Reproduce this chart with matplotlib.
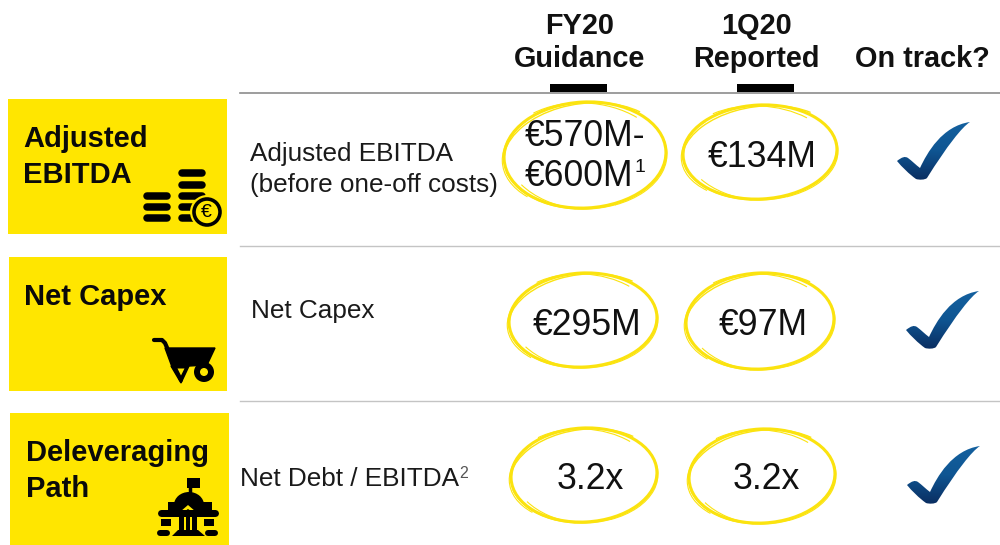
import numpy as np
import matplotlib.pyplot as plt
from matplotlib.patches import Rectangle, Circle, Ellipse, Arc, PathPatch, Polygon
from matplotlib.path import Path

plt.rcParams['font.family'] = ['Liberation Sans', 'DejaVu Sans']

columns = ['FY20\nGuidance', '1Q20\nReported', 'On track?']
tiles = ['Adjusted\nEBITDA', 'Net Capex', 'Deleveraging\nPath']
metrics = ['Adjusted EBITDA\n(before one-off costs)', 'Net Capex', 'Net Debt / EBITDA']
guidance = ['€600M', '€295M', '3.2x']
reported = ['€134M', '€97M', '3.2x']
guidance_low = '€570M-'

YELLOW = '#ffe600'
RING = '#fbe30f'

fig = plt.figure(figsize=(10, 5.45), dpi=100)
ax = fig.add_axes([0, 0, 1, 1])
ax.set_xlim(0, 1000)
ax.set_ylim(545, 0)
ax.axis('off')


def bar(x0, x1, y, h=7.5):
    # round capped stroke, h in pixels
    ax.plot([x0 + h / 2, x1 - h / 2], [y, y], color='black', lw=h * 0.72,
            solid_capstyle='round')


def ring(cx, cy, rx, ry):
    # main stroke plus loose partial strokes so it looks hand drawn
    ax.add_patch(Ellipse((cx, cy), 2 * rx, 2 * ry, angle=-3, fill=False, ec=RING, lw=2.2))
    strokes = [(1.5, -1.5, -8, 190, 330, 1.0), (-1, -1, 4, 215, 320, 0.8), (1, 1, -2, 60, 170, 1.0),
               (-1.5, 1.5, 5, 95, 150, 0.8), (2, 0, -6, 150, 215, 0.8), (1, 1, -1, 340, 420, 0.8)]
    for drx, dry, ang, t0, t1, lw in strokes:
        ax.add_patch(Arc((cx, cy), 2 * (rx + drx), 2 * (ry + dry), angle=ang, theta1=t0, theta2=t1,
                         ec=RING, lw=lw))


def check(x, y):
    verts = [(0, 0), (5, -4), (8, -5), (11, -3), (15, 0), (19, 4), (23, 7),
             (30, -8), (45, -35), (73, -39),
             (65, -34), (50, -15), (30, 17), (28, 19), (22, 19), (19, 18),
             (12, 13), (5, 6), (0, 0)]
    codes = [Path.MOVETO] + [Path.CURVE4] * 18
    patch = PathPatch(Path([(x + a, y + b) for a, b in verts], codes), fc='none', ec='none')
    ax.add_patch(patch)
    # top to bottom blue fade clipped to the tick shape
    grad = np.linspace(0, 1, 64).reshape(-1, 1)
    cmap = plt.matplotlib.colors.LinearSegmentedColormap.from_list('c', ['#14619f', '#0f5592', '#0a2d60'])
    im = ax.imshow(grad, extent=[x - 2, x + 75, y + 20, y - 40], cmap=cmap, aspect='auto', zorder=2)
    im.set_clip_path(patch)


def coins():
    for y in [195.5, 207, 218]:
        bar(143, 171, y)
    for y in [173, 184.5, 195.5, 207, 218]:
        bar(178, 206, y)
    ax.add_patch(Circle((207, 212), 17, fc=YELLOW, ec='none', zorder=3))
    ax.add_patch(Circle((207, 212), 13, fc=YELLOW, ec='black', lw=2.6, zorder=3))
    ax.text(206.5, 212.5, '€', fontsize=14, ha='center', va='center', zorder=4)


def barrow():
    ax.plot([154, 162, 165, 181], [340, 340, 343, 380], color='black', lw=3, solid_capstyle='round')
    ax.add_patch(Polygon([[165, 348], [215, 348], [207, 365], [172, 367]], fc='black', ec='black', lw=1))
    ax.add_patch(Polygon([[171, 366], [189, 366], [181, 383]], fc='black', ec='black', lw=1, zorder=3))
    ax.add_patch(Polygon([[177.5, 368.5], [184.5, 368.5], [181, 375.5]], fc=YELLOW, ec='none', zorder=3))
    ax.add_patch(Circle((204, 372), 10, fc='black', ec='none', zorder=3))
    ax.add_patch(Circle((204, 372), 4, fc=YELLOW, ec='none', zorder=3))


def building():
    ax.add_patch(Rectangle((187, 478), 13, 10, fc='black'))
    ax.plot([190, 190], [488, 494], color='black', lw=2.5)
    ax.add_patch(Ellipse((189, 505), 30, 26, fc='black'))
    ax.add_patch(Rectangle((168, 502), 44, 8, fc='black'))
    bar(157, 218, 512.5, 7)
    ax.add_patch(Polygon([[188, 505], [203, 518], [173, 518]], fc=YELLOW))
    ax.add_patch(Polygon([[188, 509], [198, 516], [178, 516]], fc='black'))
    for xx in [179, 185.5, 192]:
        ax.add_patch(Rectangle((xx, 517), 4.5, 14, fc='black'))
    for xx in [161, 204]:
        ax.add_patch(Rectangle((xx, 519), 10, 7, fc='black'))
    bar(157, 170, 533, 6)
    bar(205, 218, 533, 6)
    ax.add_patch(Polygon([[172, 536], [178, 530], [198, 530], [205, 536]], fc='black'))


# header
for name, x in zip(columns, [580, 756, 922]):
    ax.text(x, 67, name, fontsize=20.8, fontweight='bold', ha='center', va='baseline',
            linespacing=1.22, color='#111111')
ax.plot([240, 1000], [92.5, 92.5], color='#8c8c8c', lw=1.2)
for y in [245.5, 400.5]:
    ax.plot([240, 1000], [y, y], color='#c4c4c4', lw=1)
for x0 in [550, 737]:
    ax.add_patch(Rectangle((x0, 84), 57, 8, fc='black'))

# yellow tiles
for (x0, y0, x1, y1), t, (tx, ty) in zip([(8, 99, 227, 234), (9, 257, 227, 391), (10, 413, 229, 545)],
                                         tiles, [(23, 183), (24, 305), (25.5, 497)]):
    ax.add_patch(Rectangle((x0, y0), x1 - x0, y1 - y0, fc=YELLOW, ec='none'))
    ax.text(tx, ty, t, fontsize=21, fontweight='bold', va='baseline',
            linespacing=1.37, color='#0a0a0a')
coins()
barrow()
building()

# metric names
for name, (x, y) in zip(metrics, [(250, 192), (251, 318), (240, 486)]):
    ax.text(x, y, name, fontsize=18.8, va='baseline', linespacing=1.38, color='#1a1a1a')
ax.text(459, 478, '2', fontsize=11.5, color='#555555', va='baseline')

# values in hand drawn rings
rings_g = [(585, 155, 81, 53), (583, 320, 74, 47), (584, 475, 73, 47)]
rings_r = [(760, 152, 77, 47), (760, 321, 74, 48), (762, 476, 73, 47)]
text_g = [(525, 186), (533, 335), (557, 489)]
text_r = [(708, 167), (719, 335), (733, 489)]
for vals, rings, spots in [(guidance, rings_g, text_g), (reported, rings_r, text_r)]:
    for v, (cx, cy, rx, ry), (tx, ty) in zip(vals, rings, spots):
        ring(cx, cy, rx, ry)
        ax.text(tx, ty, v, fontsize=25.7, ha='left', va='baseline', color='#111111')
ax.text(525, 146, guidance_low, fontsize=25.7, ha='left', va='baseline', color='#111111')
ax.text(635, 172, '1', fontsize=14, va='baseline', color='#111111')

for x, y in [(897, 161), (906, 330), (907, 485)]:
    check(x, y)

ax.set_xlim(0, 1000)
ax.set_ylim(545, 0)
fig.savefig('out.png', dpi=100)
